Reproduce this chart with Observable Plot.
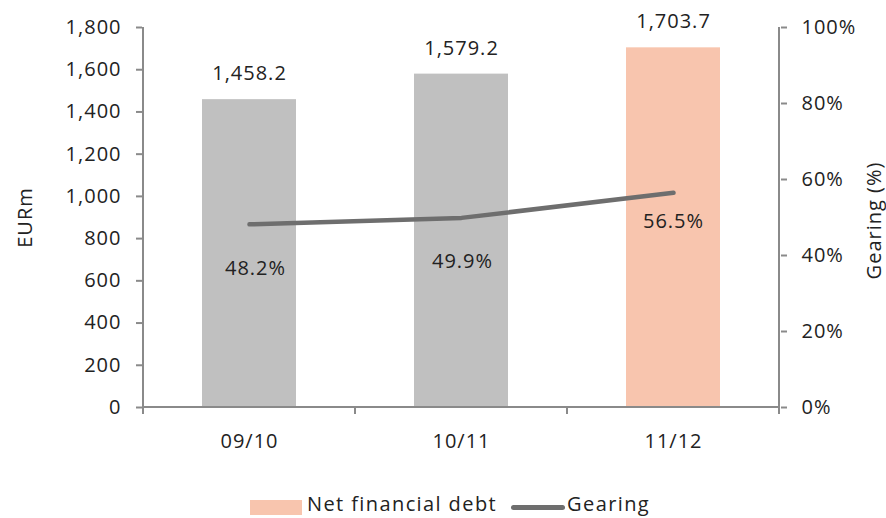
<!DOCTYPE html>
<html>
<head>
<meta charset="utf-8">
<script src="https://cdn.jsdelivr.net/npm/d3@7"></script>
<script src="https://cdn.jsdelivr.net/npm/@observablehq/plot@0.6"></script>
<style>
  html, body { margin: 0; padding: 0; background: #fff; }
  #chart { position: relative; width: 886px; height: 518px; overflow: hidden; font-family: "Open Sans", sans-serif; }
  #legend { position: absolute; left: 250px; top: 491px; display: flex; align-items: center; font-size: 20px; line-height: 26px; letter-spacing: 1.4px; color: #222; white-space: nowrap; }
  .sw-bar { width: 52px; height: 15px; background: #f8c5ae; margin-right: 5px; margin-top: 6px; }
  .sw-line { width: 54px; height: 5px; border-radius: 3px; background: #6e6e6e; margin: 6px 2px 0 14px; }
</style>
</head>
<body>
<div id="chart"></div>
<script>
const periods = ["09/10", "10/11", "11/12"];
const netDebt = [1458.2, 1579.2, 1703.7];
const gearing = [0.482, 0.499, 0.565];
const barColors = ["#c0c0c0", "#c0c0c0", "#f8c5ae"];
const leftTicks = [0, 200, 400, 600, 800, 1000, 1200, 1400, 1600, 1800];
const rightTicks = [0, 0.2, 0.4, 0.6, 0.8, 1.0];
const yMax = 1800;

const data = periods.map((p, i) => ({period: p, debt: netDebt[i], gear: gearing[i], color: barColors[i], i}));

const axisGray = "#8a8a8a";

function axisLines(index, scales, values, dimensions) {
  const x = scales.x, y = scales.y;
  const bw = x.bandwidth ? x.bandwidth() : 0;
  const step = x(periods[1]) - x(periods[0]);
  const centers = periods.map(p => x(p) + bw / 2);
  const bounds = [centers[0] - step / 2, ...centers.map(c => c + step / 2)];
  const g = d3.create("svg:g").attr("stroke", axisGray).attr("stroke-width", 2).attr("fill", "none");
  const y0 = y(0), yTop = y(yMax);
  g.append("line").attr("x1", bounds[0]).attr("x2", bounds[0]).attr("y1", yTop).attr("y2", y0 + 7);
  g.append("line").attr("x1", bounds[3]).attr("x2", bounds[3]).attr("y1", yTop).attr("y2", y0 + 7);
  g.append("line").attr("x1", bounds[0]).attr("x2", bounds[3]).attr("y1", y0).attr("y2", y0);
  bounds.slice(1, 3).forEach(b => g.append("line").attr("x1", b).attr("x2", b).attr("y1", y0).attr("y2", y0 + 7));
  return g.node();
}

const plot = Plot.plot({
  width: 886,
  height: 480,
  marginLeft: 142,
  marginRight: 106,
  marginTop: 27,
  marginBottom: 73,
  style: {fontFamily: "Open Sans, sans-serif", fontSize: "20px", color: "#222", letterSpacing: "1px", background: "#fff"},
  x: {domain: periods, paddingInner: 0.555, paddingOuter: 0.2775, label: null},
  y: {domain: [0, yMax], label: null},
  marks: [
    Plot.barY(data, {x: "period", y: "debt", fill: "color"}),
    Plot.line(data, {x: "period", y: d => d.gear * yMax, stroke: "#6e6e6e", strokeWidth: 4.5, strokeLinecap: "round", strokeLinejoin: "round"}),
    Plot.text(data, {x: "period", y: "debt", text: d => d3.format(",.1f")(d.debt), dy: -26, fill: "#222"}),
    Plot.text(data.filter(d => d.i === 0), {x: "period", y: d => d.gear * yMax, text: d => d3.format(".1%")(d.gear), dy: 44, dx: 6, fill: "#222"}),
    Plot.text(data.filter(d => d.i === 1), {x: "period", y: d => d.gear * yMax, text: d => d3.format(".1%")(d.gear), dy: 44, dx: 1, fill: "#222"}),
    Plot.text(data.filter(d => d.i === 2), {x: "period", y: d => d.gear * yMax, text: d => d3.format(".1%")(d.gear), dy: 29, fill: "#222"}),
    Plot.axisY(leftTicks, {anchor: "left", tickSize: 6, tickPadding: 15, tickFormat: d3.format(","), stroke: axisGray, strokeWidth: 2, fill: "#222", label: null}),
    Plot.axisY(rightTicks.map(v => v * yMax), {anchor: "right", tickSize: 6, tickPadding: 15, tickFormat: v => d3.format(".0%")(v / yMax), stroke: axisGray, strokeWidth: 2, fill: "#222", label: null}),
    Plot.axisX({tickSize: 0, tickPadding: 26, fill: "#222", label: null}),
    axisLines,
    Plot.text(["EURm"], {text: d => d, frameAnchor: "left", textAnchor: "middle", rotate: -90, dx: -117, fill: "#222"}),
    Plot.text(["Gearing (%)"], {text: d => d, frameAnchor: "right", textAnchor: "middle", rotate: -90, dx: 94, dy: 3, fill: "#222"})
  ]
});

const chart = document.getElementById("chart");
chart.appendChild(plot);
const legend = document.createElement("div");
legend.id = "legend";
legend.innerHTML = '<div class="sw-bar"></div><span>Net financial debt</span><div class="sw-line"></div><span>Gearing</span>';
chart.appendChild(legend);
</script>
</body>
</html>
